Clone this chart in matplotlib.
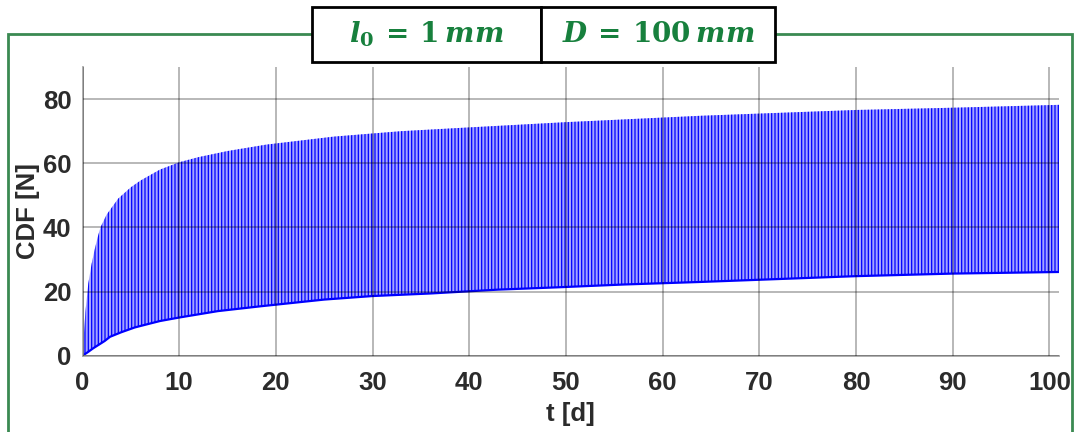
import numpy as np
import matplotlib
matplotlib.use("Agg")
import matplotlib.pyplot as plt
from matplotlib.patches import Rectangle

# Upper envelope of the CDF oscillation
t_upper = [0.0, 0.3, 0.6, 0.95, 1.25, 1.56, 1.86, 2.5, 3.7, 5.0, 6.0, 8.0, 10.0, 12.0,
           15.0, 19.0, 26.0, 33.0, 39.0, 50.0, 64.0, 80.0, 90.0, 101.0]
cdf_upper = [0.0, 13.7, 22.5, 28.7, 33.0, 36.8, 40.0, 44.0, 49.0, 52.5, 54.6, 58.0, 60.3, 61.9,
             63.8, 65.8, 68.3, 70.0, 71.0, 72.8, 74.8, 76.6, 77.3, 78.2]

# Lower envelope
t_lower = [0.0, 0.5, 1.1, 2.3, 2.85, 4.0, 5.4, 6.3, 8.0, 10.0, 14.0, 18.4, 25.0, 30.0, 36.0,
           43.0, 49.0, 56.0, 64.0, 72.0, 80.0, 90.0, 101.0]
cdf_lower = [0.0, 1.0, 2.3, 4.6, 5.9, 7.3, 8.8, 9.5, 10.8, 11.9, 13.9, 15.4, 17.5, 18.6, 19.4,
             20.6, 21.3, 22.2, 23.0, 23.9, 24.8, 25.6, 26.1]

x_ticks = [0, 10, 20, 30, 40, 50, 60, 70, 80, 90, 100]
y_ticks = [0, 20, 40, 60, 80]

plt.rcParams['font.family'] = ['Liberation Sans', 'DejaVu Sans']
plt.rcParams['mathtext.fontset'] = 'dejavuserif'
plt.rcParams['hatch.color'] = '#0000ff'
plt.rcParams['hatch.linewidth'] = 0.9

W, H = 1074, 432
fig = plt.figure(figsize=(W / 100, H / 100), dpi=100)
ax = fig.add_axes([82.5 / W, 1 - 355.7 / H, (1059 - 82.5) / W, (355.7 - 67) / H])

# band between the envelopes, striped like the daily cycles
band_t = np.r_[t_upper, t_lower[::-1]]
band_v = np.r_[cdf_upper, cdf_lower[::-1]]
ax.fill(band_t, band_v, facecolor='#a4a4ff', edgecolor='#0000ff', linewidth=0, hatch='|' * 5)
ax.plot(t_lower, cdf_lower, color='#0000ff', lw=1.6)

ax.set_xlim(0, 101)
ax.set_ylim(0, 90)
ax.set_xticks(x_ticks)
ax.set_yticks(y_ticks)
ax.grid(True, color='black', alpha=0.3, lw=1.3)
ax.set_axisbelow(False)
for s in ['top', 'right']:
    ax.spines[s].set_visible(False)
for s in ['left', 'bottom']:
    ax.spines[s].set_color('#a8a8a8')
    ax.spines[s].set_linewidth(1.3)
ax.tick_params(length=0, labelsize=18.5, labelcolor='#2b2b2b')
ax.tick_params(axis='x', pad=11)
ax.tick_params(axis='y', pad=8)
for lab in ax.get_xticklabels() + ax.get_yticklabels():
    lab.set_fontweight('bold')
ax.set_xlabel('t [d]', fontsize=18.5, fontweight='bold', color='#2b2b2b', labelpad=5)
ax.set_ylabel('CDF [N]', fontsize=18.5, fontweight='bold', color='#2b2b2b', labelpad=2)

# green frame around the figure
green = '#3a8a52'
fig.add_artist(Rectangle((8 / W, -0.1), (1072 - 8) / W, 1.1 - 34 / H,
                         transform=fig.transFigure, fill=False, edgecolor=green, lw=2))

# header boxes
box_y0 = 1 - 62 / H
box_h = (62 - 7) / H
for x0, x1, txt in [(312, 541, r'$\mathbfit{l}_{\mathbf{0}}\mathbf{\:=\:1\:}\mathbfit{mm}$'),
                    (541, 775, r'$\mathbfit{D}\mathbf{\:=\:100\:}\mathbfit{mm}$')]:
    fig.add_artist(Rectangle((x0 / W, box_y0), (x1 - x0) / W, box_h, transform=fig.transFigure,
                             facecolor='white', edgecolor='black', lw=2, zorder=5))
    fig.text((x0 + x1) / 2 / W, box_y0 + box_h / 2, txt, ha='center', va='center',
             fontsize=20, color='#17803d', zorder=6)

fig.savefig('out.png', dpi=100)
